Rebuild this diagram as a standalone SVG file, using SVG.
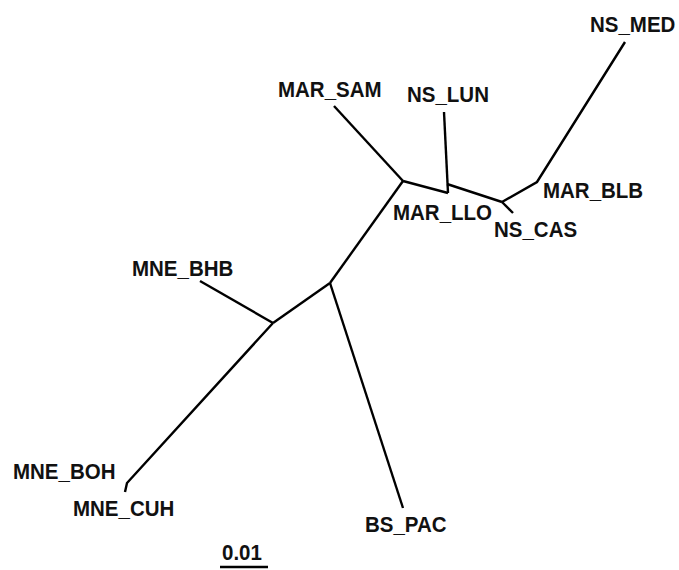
<svg xmlns="http://www.w3.org/2000/svg" width="679" height="570" viewBox="0 0 679 570">
<style>
.e{fill:none;stroke:#000;stroke-width:2.4;stroke-linecap:butt;stroke-linejoin:miter}
.t{font-family:"Liberation Sans",Arial,sans-serif;font-weight:bold;font-size:20.5px;fill:#111}
</style>
<rect width="679" height="570" fill="#fff"/>
<g id="connectors">
<path class="e" d="M334,106 L403,181"/>
<path class="e" d="M403,181 L330,283"/>
<path class="e" d="M403,181 L448,193"/>
<path class="e" d="M444,112 L448,193"/>
<path class="e" d="M447,184 L502,202"/>
<path class="e" d="M502,202 L513,213"/>
<path class="e" d="M502,202 L537,182 L625,42"/>
<path class="e" d="M330,283 L273,323"/>
<path class="e" d="M330,283 L403,508"/>
<path class="e" d="M273,323 L200,281"/>
<path class="e" d="M273,323 L127,483 L125,492"/>
<path class="e" d="M220,567 L268,567" stroke-width="2.6"/>
</g>
<g id="NS_MED"><text class="t" transform="translate(590,32) scale(1,1.07)">NS_MED</text></g>
<g id="MAR_SAM"><text class="t" transform="translate(278,97) scale(1,1.07)">MAR_SAM</text></g>
<g id="NS_LUN"><text class="t" transform="translate(407,102) scale(1,1.07)">NS_LUN</text></g>
<g id="MAR_BLB"><text class="t" transform="translate(543,198) scale(1,1.07)">MAR_BLB</text></g>
<g id="MAR_LLO"><text class="t" transform="translate(393,220) scale(1,1.07)">MAR_LLO</text></g>
<g id="NS_CAS"><text class="t" transform="translate(494,237) scale(1,1.07)">NS_CAS</text></g>
<g id="MNE_BHB"><text class="t" transform="translate(132,276) scale(1,1.07)">MNE_BHB</text></g>
<g id="MNE_BOH"><text class="t" transform="translate(13,479) scale(1,1.07)">MNE_BOH</text></g>
<g id="MNE_CUH"><text class="t" transform="translate(73,516) scale(1,1.07)">MNE_CUH</text></g>
<g id="BS_PAC"><text class="t" transform="translate(365,532) scale(1,1.07)">BS_PAC</text></g>
<g id="scale"><text class="t" transform="translate(222,560) scale(1,1.07)">0.01</text></g>
</svg>
